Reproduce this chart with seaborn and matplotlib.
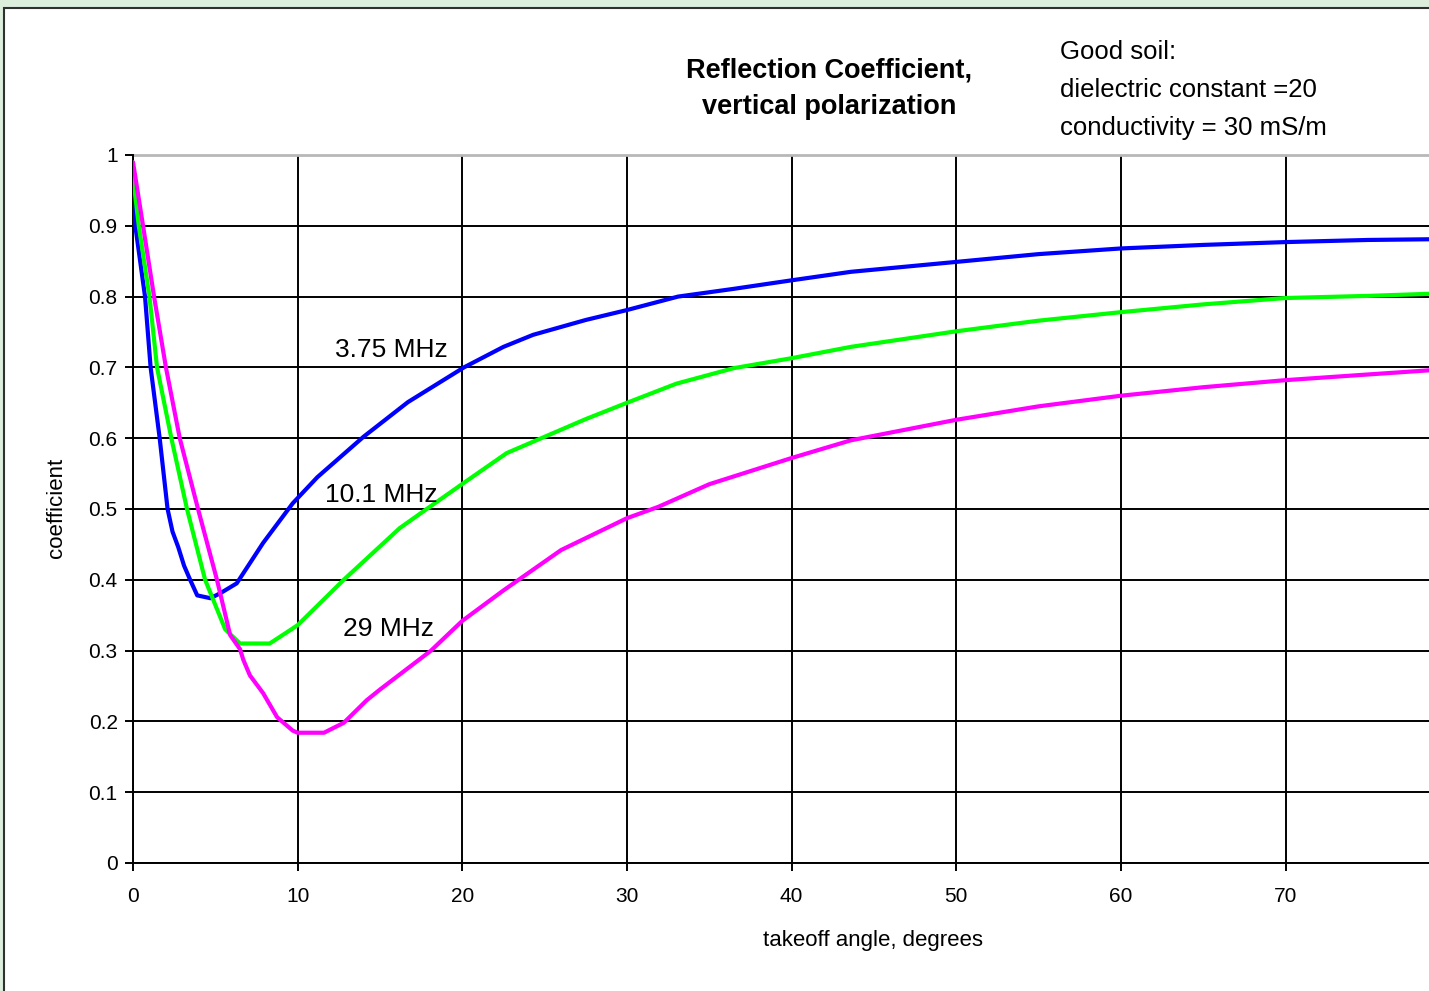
import numpy as np
import matplotlib.pyplot as plt
import matplotlib.patches as patches
import seaborn as sb
import pandas as pd

# curves (takeoff angle in degrees -> coefficient)
ang_375 = [0, 0.14, 0.73, 1.07, 1.62, 2.1, 2.4, 2.75, 3.1, 3.47, 3.9, 4.7, 5.3, 6.3, 7.9, 9.7, 11.2, 14.0,
           16.7, 20.1, 22.5, 24.3, 27.5, 30, 33.1, 36.5, 40, 43.6, 50, 55, 60, 65, 70, 75, 78.8]
coef_375 = [0.96, 0.9, 0.8, 0.7, 0.6, 0.5, 0.468, 0.446, 0.42, 0.40, 0.378, 0.374, 0.381, 0.395, 0.452,
            0.508, 0.545, 0.602, 0.651, 0.70, 0.729, 0.746, 0.767, 0.781, 0.80, 0.811, 0.823, 0.835,
            0.849, 0.86, 0.868, 0.873, 0.877, 0.88, 0.881]

ang_101 = [0, 0.35, 1.0, 1.46, 2.33, 3.28, 4.38, 5.6, 6.5, 8.3, 9.55, 10, 12.8, 16.2, 17.9, 20.1, 22.7,
           24.8, 27.5, 30, 33, 36.5, 40, 43.6, 50, 55, 60, 65, 70, 75, 78.8]
coef_101 = [0.97, 0.9, 0.8, 0.7, 0.6, 0.5, 0.4, 0.33, 0.31, 0.31, 0.329, 0.336, 0.40, 0.473, 0.501, 0.537,
            0.579, 0.60, 0.627, 0.65, 0.677, 0.699, 0.713, 0.729, 0.751, 0.766, 0.778, 0.789, 0.798,
            0.801, 0.804]

ang_29 = [0, 0.61, 1.28, 2.0, 2.84, 3.95, 5.1, 5.9, 6.5, 6.7, 7.1, 7.9, 8.75, 9.7, 10, 11.6, 12.8, 14.2,
          15, 18.1, 20, 22.5, 26.0, 30, 31.9, 35, 40, 43.6, 50, 55, 60, 65, 70, 75, 78.8]
coef_29 = [0.99, 0.9, 0.8, 0.7, 0.6, 0.5, 0.4, 0.322, 0.302, 0.287, 0.265, 0.24, 0.206, 0.187, 0.184,
           0.184, 0.198, 0.23, 0.245, 0.30, 0.342, 0.385, 0.442, 0.487, 0.503, 0.535, 0.572, 0.597,
           0.626, 0.645, 0.66, 0.672, 0.682, 0.69, 0.696]

freqs = ["3.75 MHz", "10.1 MHz", "29 MHz"]
colores = ["#0000ff", "#00ff00", "#ff00ff"]

df = pd.concat([
    pd.DataFrame({"angle": ang_375, "coef": coef_375, "freq": freqs[0]}),
    pd.DataFrame({"angle": ang_101, "coef": coef_101, "freq": freqs[1]}),
    pd.DataFrame({"angle": ang_29, "coef": coef_29, "freq": freqs[2]}),
])

sb.set_style("white")
plt.rcParams['font.family'] = ['Liberation Sans', 'DejaVu Sans']
plt.rcParams['text.color'] = 'black'
plt.rcParams['axes.labelcolor'] = 'black'
plt.rcParams['xtick.color'] = 'black'
plt.rcParams['ytick.color'] = 'black'

fig = plt.figure(figsize=(14.29, 9.91), dpi=100, facecolor="#ddeedd")
# white panel with dark border, cut off at the right and bottom like the reference
fig.patches.append(patches.Rectangle((4/1429, -0.05), 1.1, 1 - 8/991 + 0.05, transform=fig.transFigure,
                                     facecolor="white", edgecolor="#303030", linewidth=1.5, zorder=-5))

ax = fig.add_axes([133/1429, 128/991, 1 - 133/1429 + 0.001, 708/991])
ax.set_facecolor("none")

sb.lineplot(data=df, x="angle", y="coef", hue="freq", palette=colores, linewidth=3.0,
            legend=False, ax=ax, sort=False, zorder=3)

ax.set_xlim(0, 78.8)
ax.set_ylim(0, 1)
ax.set_xticks(np.arange(0, 80, 10))
ax.set_yticks(np.arange(0, 1.01, 0.1))
ax.set_yticklabels(["0", "0.1", "0.2", "0.3", "0.4", "0.5", "0.6", "0.7", "0.8", "0.9", "1"])
ax.grid(True, color="black", linewidth=1.4)
ax.tick_params(axis="both", which="both", direction="out", length=6, width=1.4, color="black",
               labelsize=15, bottom=True, left=True)
ax.tick_params(axis="x", pad=11)
ax.tick_params(axis="y", pad=5)
for s in ["right", "top"]:
    ax.spines[s].set_visible(False)
ax.spines["left"].set_color("black")
ax.spines["left"].set_linewidth(1.4)
ax.spines["bottom"].set_color("black")
ax.spines["bottom"].set_linewidth(1.4)
# gray top line at 1.0
ax.axhline(1.0, color="#b8b8b8", linewidth=2.0, zorder=2, clip_on=False)
ax.get_ygridlines()[-1].set_visible(False)

ax.set_xlabel("takeoff angle, degrees", fontsize=16)
ax.set_ylabel("coefficient", fontsize=16)
ax.xaxis.set_label_coords(0.570, -0.109)
ax.xaxis.label.set_va("center")
ax.yaxis.set_label_coords(-0.0586, 0.501)
ax.yaxis.label.set_va("center")

ax.text(15.7, 0.724, "3.75 MHz", fontsize=19, ha="center", va="center", zorder=4)
ax.text(15.1, 0.52, "10.1 MHz", fontsize=19, ha="center", va="center", zorder=4)
ax.text(15.5, 0.33, "29 MHz", fontsize=19, ha="center", va="center", zorder=4)

fig.text(829/1429, 1 - 89/991, "Reflection Coefficient,\nvertical polarization", fontsize=19.5,
         fontweight="bold", ha="center", va="center", linespacing=1.5)
fig.text(1060/1429, 1 - 90/991, "Good soil:\ndielectric constant =20\nconductivity = 30 mS/m",
         fontsize=18.5, ha="left", va="center", linespacing=1.75)

fig.savefig("out.png", dpi=100, facecolor=fig.get_facecolor())
